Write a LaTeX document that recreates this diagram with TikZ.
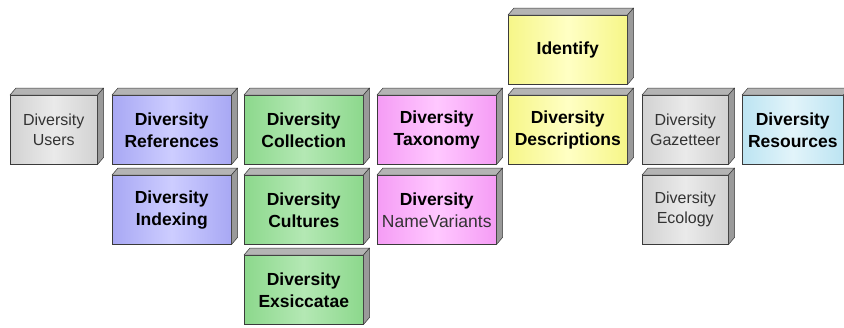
\documentclass[tikz,border=0pt]{standalone}
\usepackage{fontspec}
\setmainfont{Liberation Sans}
\definecolor{edgec}{HTML}{3A3A3A}
\definecolor{topc}{HTML}{B4B4B4}
\definecolor{sidec}{HTML}{9A9A9A}
\definecolor{gtext}{HTML}{333333}
\definecolor{grayE}{HTML}{D2D2D2}\definecolor{grayM}{HTML}{EAEAEA}
\definecolor{bluE}{HTML}{A8A8F4}\definecolor{bluM}{HTML}{CDCDFF}
\definecolor{grnE}{HTML}{8CD88C}\definecolor{grnM}{HTML}{B4E8B4}
\definecolor{pnkE}{HTML}{F59CF5}\definecolor{pnkM}{HTML}{FFC8FF}
\definecolor{yelE}{HTML}{F6F688}\definecolor{yelM}{HTML}{FFFFC4}
\definecolor{cyaE}{HTML}{BCE4F2}\definecolor{cyaM}{HTML}{E2F4FA}
\tikzset{
  face/.style={draw=edgec, line width=0.5pt, minimum height=69pt, inner sep=0pt,
    align=center, anchor=north west},
  wide/.style={face, minimum width=119pt},
  narrow/.style={face, minimum width=86pt},
  colfont/.style={font=\bfseries\fontsize{17.5}{22}\selectfont, text=black},
  grayfont/.style={font=\fontsize{16}{20}\selectfont, text=gtext},
  graybox/.style={left color=grayE, right color=grayE, middle color=grayM, grayfont},
  bluebox/.style={left color=bluE, right color=bluE, middle color=bluM, colfont},
  greenbox/.style={left color=grnE, right color=grnE, middle color=grnM, colfont},
  pinkbox/.style={left color=pnkE, right color=pnkE, middle color=pnkM, colfont},
  yellowbox/.style={left color=yelE, right color=yelE, middle color=yelM, colfont},
  cyanbox/.style={left color=cyaE, right color=cyaE, middle color=cyaM, colfont},
  topface/.style={fill=topc, draw=edgec, line width=0.5pt, line join=round},
  sideface/.style={fill=sidec, draw=edgec, line width=0.5pt, line join=round}
}
\begin{document}
\begin{tikzpicture}[x=1pt,y=1pt]
\useasboundingbox (0,0) rectangle (844,-327);
\clip (0,0) rectangle (844,-327);
% row 1
\node[wide, yellowbox] (identify) at (508,-15) {Identify};
% row 2
\node[narrow, graybox, minimum width=87pt] (users) at (10,-95) {Diversity\\Users};
\node[wide, bluebox] (references) at (112,-95) {Diversity\\References};
\node[wide, greenbox] (collection) at (244,-95) {Diversity\\Collection};
\node[wide, pinkbox] (taxonomy) at (377,-95) {Diversity\\Taxonomy};
\node[wide, yellowbox] (descriptions) at (508,-95) {Diversity\\Descriptions};
\node[narrow, graybox] (gazetteer) at (642,-95) {Diversity\\Gazetteer};
\node[wide, cyanbox, minimum width=101pt] (resources) at (742,-95) {Diversity\\Resources};
% row 3
\node[wide, bluebox] (indexing) at (112,-175) {Diversity\\Indexing};
\node[wide, greenbox] (cultures) at (244,-175) {Diversity\\Cultures};
\node[wide, pinkbox] (namevariants) at (377,-175) {Diversity\\{\mdseries\color{gtext}NameVariants}};
\node[narrow, graybox] (ecology) at (642,-175) {Diversity\\Ecology};
% row 4
\node[wide, greenbox] (exsiccatae) at (244,-255) {Diversity\\Exsiccatae};
% 3D faces
\foreach \n in {identify,users,references,collection,taxonomy,descriptions,gazetteer,resources,indexing,cultures,namevariants,ecology,exsiccatae}{
  \path[topface] (\n.north west) -- ++(6,7) -- ([shift={(6,7)}]\n.north east) -- (\n.north east) -- cycle;
  \path[sideface] (\n.north east) -- ++(6,7) -- ([shift={(6,7)}]\n.south east) -- (\n.south east) -- cycle;
}
\end{tikzpicture}
\end{document}
